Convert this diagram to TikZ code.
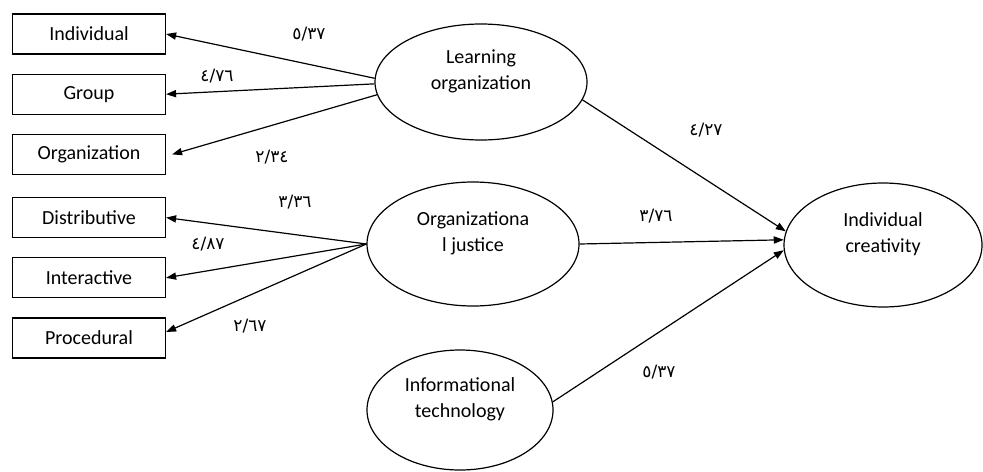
\documentclass[tikz,border=0pt]{standalone}
\usepackage{fontspec}
\setmainfont{Carlito}
\newfontfamily\arabicfont[Script=Arabic]{DejaVu Sans}
\usetikzlibrary{arrows.meta, positioning, shapes.geometric}

\begin{document}
\begin{tikzpicture}[
	x=0.5pt, y=-0.5pt,
	node distance=9.5pt,
	font=\fontsize{10}{13}\selectfont,
	line width=0.6pt,
	box/.style = {draw, minimum width=76.5pt, minimum height=20pt, inner sep=0pt},
	var/.style = {draw, ellipse, align=center, inner sep=0pt, text depth=12pt},
	num/.style = {font=\fontsize{8.5}{10}\arabicfont, inner sep=0pt},
	arr/.style = {-{Triangle[length=5pt, width=3.6pt]}}
	]
	\useasboundingbox (0,0) rectangle (983,471);
%
	\node (ind) [box] at (89,34) {Individual};
	\node (grp) [box, below=of ind] {Group};
	\node (org) [box, below=of grp] {Organization};
	\node (dst) [box, below=11pt of org] {Distributive};
	\node (int) [box, below=of dst] {Interactive};
	\node (prc) [box, below=of int] {Procedural};
%
	\node (lo) [var, minimum width=106pt, minimum height=58pt] at (481,82) {Learning\\organization};
	\node (oj) [var, minimum width=106pt, minimum height=62pt] at (473,244) {Organizationa\\l justice};
	\node (it) [var, minimum width=93pt, minimum height=60pt] at (460,410) {Informational\\technology};
	\node (ic) [var, minimum width=99pt, minimum height=62pt] at (883,245) {Individual\\creativity};
%
	\draw[arr] (lo.178) -- (ind.east);
	\draw[arr] (lo.181) -- (grp.east);
	\draw[arr] (lo.187) -- ([xshift=3pt] org.east);
	\draw[arr] (oj.west) -- (dst.east);
	\draw[arr] (oj.west) -- (int.east);
	\draw[arr] (oj.west) -- ([yshift=3pt] prc.east);
%
	\draw[arr] (lo.-10) -- (ic.172);
	\draw[arr] (oj.east) -- (ic.177);
	\draw[arr] (it.5) -- (ic.183);
%
	\node (w1) [num] at (309,34) {٥/٣٧};
	\node (w2) [num] at (217,76) {٤/٧٦};
	\node (w3) [num] at (272,157) {٢/٣٤};
	\node (w4) [num] at (295,202) {٣/٣٦};
	\node (w5) [num] at (208,244) {٤/٨٧};
	\node (w6) [num] at (250,326) {٢/٦٧};
	\node (w7) [num] at (706,130) {٤/٢٧};
	\node (w8) [num] at (656,216) {٣/٧٦};
	\node (w9) [num] at (659,372) {٥/٣٧};
\end{tikzpicture}
\end{document}
